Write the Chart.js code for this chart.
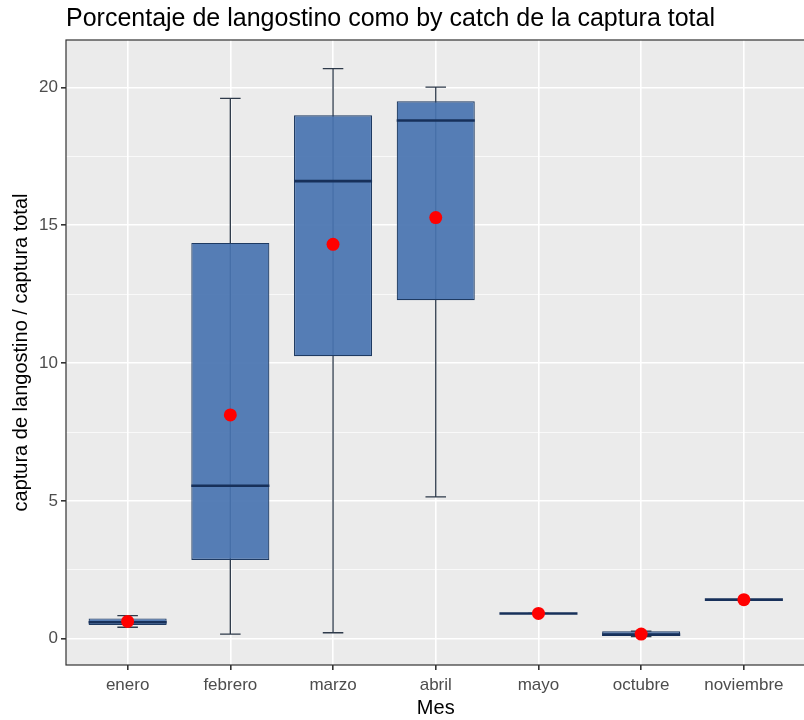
<!DOCTYPE html>
<html>
<head>
<meta charset="utf-8">
<script src="https://cdn.jsdelivr.net/npm/chart.js@4.4.1/dist/chart.umd.min.js"></script>
<style>
  html, body { margin: 0; padding: 0; background: #fff; }
  #wrap { width: 804px; height: 720px; overflow: hidden; }
</style>
</head>
<body>
<div id="wrap"><canvas id="chart" width="812" height="720"></canvas></div>
<script>
'use strict';

// boxplot stats per month
var months = ['enero', 'febrero', 'marzo', 'abril', 'mayo', 'octubre', 'noviembre'];
var whiskerLow  = [0.42, 0.17, 0.22,  5.15, 0.92, 0.08, 1.42];
var q1          = [0.50, 2.86, 10.25, 12.28, 0.92, 0.10, 1.42];
var medians     = [0.60, 5.55, 16.60, 18.80, 0.92, 0.15, 1.42];
var q3          = [0.74, 14.36, 18.99, 19.50, 0.92, 0.27, 1.42];
var whiskerHigh = [0.84, 19.60, 20.68, 20.01, 0.92, 0.28, 1.42];
var means       = [0.63, 8.12, 14.31, 15.28, 0.92, 0.17, 1.42];

var yTicks = [0, 5, 10, 15, 20];
var yMinor = [2.5, 7.5, 12.5, 17.5];

var titleText = 'Porcentaje de langostino como by catch de la captura total';

var boxData = months.map(function (m, i) { return { x: i, y: [q1[i], q3[i]] }; });
var meanData = months.map(function (m, i) { return { x: i, y: means[i] }; });

// grey panel, whiskers, medians, border, title
var boxPlugin = {
  id: 'boxExtras',
  beforeDraw: function (chart) {
    var a = chart.chartArea, c = chart.ctx;
    c.save();
    c.fillStyle = '#ebebeb';
    c.fillRect(a.left, a.top, a.right - a.left, a.bottom - a.top);
    c.restore();
  },
  beforeDatasetsDraw: function (chart) {
    var c = chart.ctx, xs = chart.scales.x, ys = chart.scales.y;
    var capHalf = (xs.getPixelForValue(1) - xs.getPixelForValue(0)) * 0.1;
    c.save();
    c.strokeStyle = '#2e3a4a';
    c.lineWidth = 1.3;
    for (var i = 0; i < months.length; i++) {
      var px = xs.getPixelForValue(i);
      var lo = ys.getPixelForValue(whiskerLow[i]);
      var hi = ys.getPixelForValue(whiskerHigh[i]);
      c.beginPath();
      c.moveTo(px, lo); c.lineTo(px, hi);
      c.moveTo(px - capHalf, lo); c.lineTo(px + capHalf, lo);
      c.moveTo(px - capHalf, hi); c.lineTo(px + capHalf, hi);
      c.stroke();
    }
    c.restore();
  },
  afterDatasetDraw: function (chart, args) {
    if (args.meta.type !== 'bar') return;
    var c = chart.ctx, ys = chart.scales.y;
    c.save();
    c.strokeStyle = '#17305a';
    c.lineWidth = 2.6;
    args.meta.data.forEach(function (bar, i) {
      var py = ys.getPixelForValue(medians[i]);
      c.beginPath();
      c.moveTo(bar.x - bar.width / 2, py);
      c.lineTo(bar.x + bar.width / 2, py);
      c.stroke();
    });
    c.restore();
  },
  afterDraw: function (chart) {
    var a = chart.chartArea, c = chart.ctx;
    c.save();
    c.strokeStyle = '#333333';
    c.lineWidth = 1.2;
    c.strokeRect(a.left, a.top, a.right - a.left, a.bottom - a.top);
    c.fillStyle = '#000000';
    c.font = '25px "Liberation Sans", Arial, sans-serif';
    c.textBaseline = 'alphabetic';
    c.textAlign = 'left';
    c.fillText(titleText, a.left, 26);
    c.restore();
  }
};

var ctx = document.getElementById('chart').getContext('2d');
var chart = new Chart(ctx, {
  type: 'bar',
  data: {
    datasets: [{
      type: 'bar',
      data: boxData,
      order: 2,
      backgroundColor: 'rgba(72, 115, 176, 0.92)',
      borderColor: '#1e3a62',
      borderWidth: 1.2,
      borderSkipped: false,
      barPercentage: 0.76,
      categoryPercentage: 1
    }, {
      type: 'scatter',
      data: meanData,
      order: 1,
      pointRadius: 6.5,
      pointBackgroundColor: '#ff0000',
      pointBorderColor: '#ff0000',
      pointBorderWidth: 0
    }]
  },
  options: {
    responsive: false,
    animation: false,
    layout: { padding: { top: 40, right: 2, left: 0, bottom: 0 } },
    plugins: {
      legend: { display: false },
      tooltip: { enabled: false },
      title: { display: false }
    },
    scales: {
      x: {
        type: 'linear',
        offset: false,
        min: -0.6,
        max: 6.6,
        afterBuildTicks: function (s) {
          s.ticks = months.map(function (m, i) { return { value: i }; });
        },
        afterFit: function (s) { s.height = 55; },
        ticks: {
          callback: function (v) { return months[v]; },
          font: { family: 'Liberation Sans', size: 17 },
          color: '#4d4d4d',
          padding: 5,
          maxRotation: 0,
          autoSkip: false
        },
        grid: { offset: false, color: '#ffffff', lineWidth: 1.6, tickColor: '#333333', tickLength: 5 },
        border: { display: false },
        title: {
          display: true,
          text: 'Mes',
          font: { family: 'Liberation Sans', size: 20 },
          color: '#000000',
          padding: { top: 0, bottom: 0 }
        }
      },
      y: {
        min: -0.95,
        max: 21.72,
        afterBuildTicks: function (s) {
          s.ticks = yTicks.concat(yMinor).sort(function (a, b) { return a - b; })
            .map(function (v) { return { value: v }; });
        },
        afterFit: function (s) { s.width = 66; },
        ticks: {
          callback: function (v) { return yTicks.indexOf(v) >= 0 ? String(v) : ''; },
          font: { family: 'Liberation Sans', size: 17 },
          color: '#4d4d4d',
          padding: 3
        },
        grid: {
          color: '#ffffff',
          lineWidth: function (c) { return c.tick && yTicks.indexOf(c.tick.value) >= 0 ? 1.6 : 0.7; },
          tickColor: function (c) { return c.tick && yTicks.indexOf(c.tick.value) >= 0 ? '#333333' : 'rgba(0,0,0,0)'; },
          tickLength: 5
        },
        border: { display: false },
        title: {
          display: true,
          text: 'captura de langostino / captura total',
          font: { family: 'Liberation Sans', size: 20 },
          color: '#000000',
          padding: { top: 9, bottom: 0 }
        }
      }
    }
  },
  plugins: [boxPlugin]
});
</script>
</body>
</html>
